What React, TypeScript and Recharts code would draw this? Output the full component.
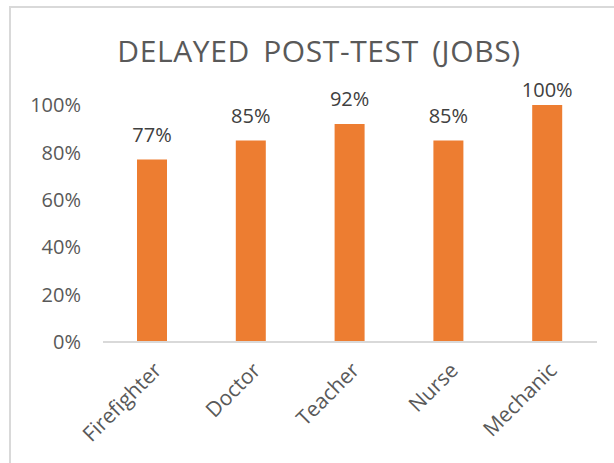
import React from 'react';
import { BarChart, Bar, XAxis, YAxis, LabelList } from 'recharts';

const jobs = ['Firefighter', 'Doctor', 'Teacher', 'Nurse', 'Mechanic'];
const scores = [0.77, 0.85, 0.92, 0.85, 1.0];
const yTicks = [0, 0.2, 0.4, 0.6, 0.8, 1];

const data = jobs.map((job, i) => ({ job, score: scores[i] }));

const FONT = '"Open Sans", sans-serif';
const TOP = 105;
const pct = (v: number) => `${Math.round(v * 100)}%`;

// value label above each bar, kept inside the chart area like Excel does
const TopLabel = (props: any) => {
  const { x, y, width, value } = props;
  const ty = Math.max(y - 18, TOP - 8);
  return (
    <text x={x + width / 2} y={ty} textAnchor="middle" fill="#404040" fontSize={20} fontFamily={FONT}>
      {pct(Number(value))}
    </text>
  );
};

export default function App() {
  return (
    <div style={{ position: 'fixed', left: 0, top: 0, width: 614, height: 463, overflow: 'hidden', background: '#fff', fontFamily: FONT }}>
      <div style={{ position: 'absolute', left: 9, top: 6, width: 700, height: 600, borderLeft: '2px solid #d9d9d9', borderTop: '2px solid #d9d9d9' }} />
      <div style={{ position: 'absolute', left: 0, top: 30, width: 638, textAlign: 'center', fontSize: 30, letterSpacing: 0.6, wordSpacing: 5, lineHeight: 'normal', color: '#595959', whiteSpace: 'nowrap' }}>
        DELAYED POST-TEST (JOBS)
      </div>
      <div style={{ position: 'absolute', left: 0, top: 0 }}>
        <BarChart width={614} height={463} data={data} margin={{ top: TOP, right: 17, bottom: 21, left: 28 }} barSize={30}>
          <XAxis
            dataKey="job"
            stroke="#d9d9d9"
            strokeWidth={2}
            tickLine={false}
            interval={0}
            height={100}
            tick={{ fill: '#595959', fontSize: 21, fontFamily: FONT, angle: -45, textAnchor: 'end', dx: 0, dy: 11 }}
          />
          <YAxis
            domain={[0, 1]}
            ticks={yTicks}
            tickFormatter={pct}
            axisLine={false}
            tickLine={false}
            tickSize={0}
            tickMargin={22}
            width={75}
            tick={{ fill: '#595959', fontSize: 20, fontFamily: FONT }}
          />
          <Bar dataKey="score" fill="#ED7D31" isAnimationActive={false}>
            <LabelList dataKey="score" content={TopLabel} />
          </Bar>
        </BarChart>
      </div>
    </div>
  );
}
